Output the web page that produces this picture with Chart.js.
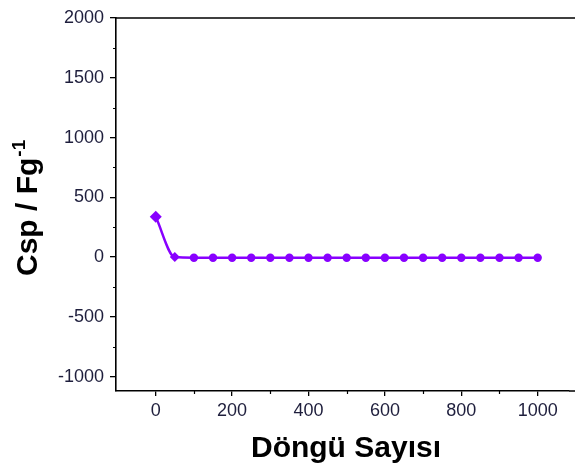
<!DOCTYPE html>
<html lang="tr">
<head>
    <meta charset="UTF-8">
    <title>Döngü Sayısı</title>
    <script src="https://cdn.jsdelivr.net/npm/chart.js@4.4.0/dist/chart.umd.min.js"></script>
    <style>
        html, body { margin: 0; padding: 0; background: #fff; overflow: hidden; }
    </style>
</head>
<body>
<canvas id="myChart" width="575" height="471"></canvas>
<script>
    // cycle number vs specific capacitance
    const cycles = [0, 50, 100, 150, 200, 250, 300, 350, 400, 450, 500,
                    550, 600, 650, 700, 750, 800, 850, 900, 950, 1000];
    const csp    = [337, 0, -5, -5, -5, -5, -5, -5, -5, -5, -5,
                    -5, -5, -5, -5, -5, -5, -5, -5, -5, -5];

    const xTicks = [0, 200, 400, 600, 800, 1000];
    const xMinor = [100, 300, 500, 700, 900];
    const yTicks = [-1000, -500, 0, 500, 1000, 1500, 2000];
    const yMinor = [-750, -250, 250, 750, 1250, 1750];

    const purple = '#8800ff';
    const labelColor = '#1e1e3c';

    // frame top line, minor ticks and the axis titles (with superscript)
    const extras = {
        id: 'extras',
        afterDraw(chart) {
            const ctx = chart.ctx;
            const a = chart.chartArea;
            const xs = chart.scales.x, ys = chart.scales.y;
            ctx.save();
            ctx.strokeStyle = '#000';
            ctx.lineWidth = 1.6;
            ctx.beginPath();
            ctx.moveTo(a.left, a.top);
            ctx.lineTo(chart.width, a.top);
            ctx.moveTo(a.right, a.bottom);
            ctx.lineTo(chart.width, a.bottom);
            ctx.stroke();

            ctx.lineWidth = 1.2;
            ctx.beginPath();
            xMinor.forEach(v => {
                const px = Math.round(xs.getPixelForValue(v)) + 0.5;
                ctx.moveTo(px, a.bottom);
                ctx.lineTo(px, a.bottom + 3);
            });
            yMinor.forEach(v => {
                const py = Math.round(ys.getPixelForValue(v)) + 0.5;
                ctx.moveTo(a.left, py);
                ctx.lineTo(a.left - 3, py);
            });
            ctx.stroke();

            ctx.fillStyle = '#000';
            ctx.textBaseline = 'alphabetic';
            ctx.font = 'bold 30px "Liberation Sans", Arial, sans-serif';
            ctx.textAlign = 'center';
            ctx.fillText('Döngü Sayısı', 346, 457);

            ctx.translate(37, 276);
            ctx.rotate(-Math.PI / 2);
            ctx.textAlign = 'left';
            const main = 'Csp / Fg';
            ctx.fillText(main, 0, 0);
            const w = ctx.measureText(main).width;
            ctx.font = 'bold 19px "Liberation Sans", Arial, sans-serif';
            ctx.fillText('-1', w + 1, -12);
            ctx.restore();
        }
    };

    const ctx = document.getElementById('myChart').getContext('2d');
    const myChart = new Chart(ctx, {
        type: 'line',
        data: {
            datasets: [{
                data: cycles.map((c, i) => ({ x: c, y: csp[i] })),
                borderColor: purple,
                backgroundColor: purple,
                borderWidth: 2.5,
                pointRadius: cycles.map((c, i) => i === 0 ? 6 : (i === 1 ? 5 : 4.2)),
                pointStyle: cycles.map((c, i) => i < 2 ? 'rectRot' : 'circle'),
                pointBorderWidth: 0,
                cubicInterpolationMode: 'monotone'
            }]
        },
        options: {
            responsive: false,
            animation: false,
            layout: { padding: { top: 18, right: 0, left: 0, bottom: 0 } },
            plugins: {
                legend: { display: false },
                tooltip: { enabled: false }
            },
            scales: {
                x: {
                    type: 'linear',
                    min: -104,
                    max: 1082,
                    afterBuildTicks: s => { s.ticks = xTicks.map(v => ({ value: v })); },
                    afterFit: s => { s.height = 80; },
                    grid: { display: true, drawOnChartArea: false, drawTicks: true, tickLength: 5, color: '#000', lineWidth: 1.3 },
                    border: { display: true, color: '#000', width: 1.6 },
                    ticks: {
                        color: labelColor,
                        padding: 4,
                        maxRotation: 0,
                        callback: v => String(v),
                        font: { family: '"Liberation Sans", Arial, sans-serif', size: 18 }
                    }
                },
                y: {
                    min: -1120,
                    max: 2000,
                    afterBuildTicks: s => { s.ticks = yTicks.map(v => ({ value: v })); },
                    afterFit: s => { s.width = 116; },
                    grid: { display: true, drawOnChartArea: false, drawTicks: true, tickLength: 6, color: '#000', lineWidth: 1.3 },
                    border: { display: true, color: '#000', width: 1.6 },
                    ticks: {
                        color: labelColor,
                        padding: 6,
                        callback: v => String(v),
                        font: { family: '"Liberation Sans", Arial, sans-serif', size: 18 }
                    }
                }
            }
        },
        plugins: [extras]
    });
</script>
</body>
</html>
